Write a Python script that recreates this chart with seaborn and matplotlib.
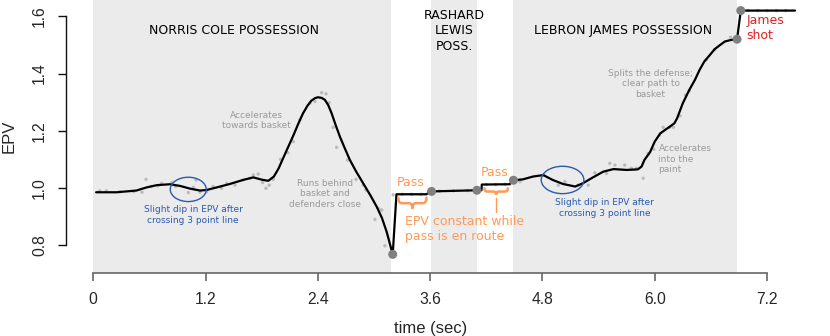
import numpy as np
import pandas as pd
import matplotlib
matplotlib.use("Agg")
import matplotlib.pyplot as plt
from matplotlib.patches import Ellipse, PathPatch
from matplotlib.path import Path
import seaborn as sns

# ---------------- data ----------------
curve_t = [0.03, 0.25, 0.46, 0.57, 0.68, 0.82, 0.93, 1.03, 1.14, 1.21, 1.32, 1.46,
           1.60, 1.71, 1.80, 1.87, 1.93, 1.98, 2.03, 2.085, 2.14, 2.19, 2.24, 2.29, 2.33,
           2.37, 2.40, 2.44, 2.475, 2.51, 2.547, 2.59,
           2.636, 2.69, 2.742, 2.81, 2.885, 2.96, 3.028, 3.085, 3.135, 3.20, 3.24, 3.56,
           3.615, 4.10, 4.148,
           4.152, 4.45, 4.49, 4.59, 4.70, 4.81, 4.91, 5.02, 5.15, 5.23, 5.34, 5.45,
           5.56, 5.70, 5.82, 5.86, 5.89, 5.95, 6.00, 6.06, 6.12, 6.16, 6.21, 6.24, 6.30,
           6.37, 6.43, 6.48, 6.53, 6.59, 6.64, 6.70, 6.75,
           6.81, 6.88, 6.92, 7.50]
curve_v = [0.985, 0.985, 0.991, 1.002, 1.010, 1.013, 1.007, 0.998, 0.991, 0.993, 1.002, 1.014,
           1.028, 1.037, 1.029, 1.025, 1.040, 1.068, 1.105, 1.145, 1.185, 1.224, 1.260, 1.288, 1.305,
           1.314, 1.317, 1.315, 1.308, 1.290, 1.261, 1.220,
           1.179, 1.137, 1.098, 1.057, 1.016, 0.975, 0.935, 0.895, 0.847, 0.768, 0.978, 0.978,
           0.988, 0.992, 0.992,
           1.012, 1.013, 1.027, 1.030, 1.040, 1.045, 1.028, 1.014, 1.005, 1.016, 1.037, 1.057,
           1.066, 1.063, 1.065, 1.075, 1.098, 1.125, 1.162, 1.191, 1.205, 1.214, 1.226, 1.244, 1.296,
           1.343, 1.378, 1.413, 1.442, 1.465, 1.485, 1.500, 1.512,
           1.517, 1.520, 1.620, 1.620]

raw_t = [0.07, 0.14, 0.285, 0.43, 0.52, 0.563, 0.62, 0.69, 0.73, 0.84, 0.88, 1.015, 1.07,
         1.097, 1.14, 1.21, 1.28, 1.37, 1.425, 1.514, 1.60, 1.674, 1.71, 1.763, 1.81, 1.845,
         1.88, 1.923, 2.00, 2.08, 2.137, 2.208, 2.315, 2.369, 2.44, 2.486, 2.52, 2.564, 2.60,
         2.718, 2.807, 2.885, 2.913, 3.01, 3.045, 3.081, 3.116, 3.205, 3.08,
         3.30, 3.40, 3.50, 3.70, 3.85, 4.00, 4.20, 4.30, 4.40,
         4.56, 4.81, 4.97, 5.04, 5.18, 5.29, 5.36, 5.485, 5.52, 5.575, 5.68, 5.75, 5.806,
         5.876, 5.93, 5.99, 6.05, 6.09, 6.16, 6.20, 6.27, 6.33, 6.37, 6.55, 6.64, 6.81,
         7.00, 7.10, 7.20, 7.30, 7.40]
raw_v = [0.990, 0.990, 0.987, 0.987, 0.985, 1.030, 1.005, 1.007, 1.016, 1.019, 1.005, 0.984, 1.002,
         1.028, 0.985, 0.987, 1.005, 0.999, 1.016, 1.010, 1.028, 1.034, 1.045, 1.049, 1.019, 0.999,
         1.010, 1.030, 1.100, 1.123, 1.162, 1.238, 1.296, 1.302, 1.333, 1.329, 1.298, 1.212, 1.142,
         1.098, 1.030, 1.010, 0.993, 0.890, 0.929, 0.923, 0.798, 0.976, 0.923,
         0.978, 0.978, 0.978, 0.989, 0.990, 0.991, 1.012, 1.012, 1.013,
         1.022, 1.045, 1.010, 1.022, 1.010, 1.010, 1.053, 1.051, 1.086, 1.080, 1.080, 1.069, 1.069,
         1.034, 1.121, 1.135, 1.185, 1.212, 1.212, 1.212, 1.252, 1.325, 1.340, 1.448, 1.483, 1.527,
         1.620, 1.620, 1.620, 1.620, 1.620]

event_t = [3.20, 3.615, 4.10, 4.49, 6.88, 6.92]
event_v = [0.768, 0.988, 0.992, 1.027, 1.520, 1.620]

poss_names = ["NORRIS COLE POSSESSION", "RASHARD\nLEWIS\nPOSS.", "LEBRON JAMES POSSESSION"]
poss_start = [0.0, 3.605, 4.484]
poss_end = [3.18, 4.096, 6.88]

pass_start = [3.26, 4.18]
pass_end = [3.56, 4.43]

x_ticks = [0, 1.2, 2.4, 3.6, 4.8, 6.0, 7.2]
x_tick_labels = ["0", "1.2", "2.4", "3.6", "4.8", "6.0", "7.2"]
y_ticks = [0.8, 1.0, 1.2, 1.4, 1.6]
y_tick_labels = ["0.8", "1.0", "1.2", "1.4", "1.6"]

curve_df = pd.DataFrame({"t": curve_t, "v": curve_v})
raw_df = pd.DataFrame({"t": raw_t, "v": raw_v})
event_df = pd.DataFrame({"t": event_t, "v": event_v})

# ---------------- style ----------------
sns.set_style("white")
plt.rcParams["font.family"] = ["DejaVu Sans"]

W, H = 830, 336
fig = plt.figure(figsize=(W / 100, H / 100), dpi=100)
ax = fig.add_axes([65.7 / W, (H - 273) / H, (796 - 65.7) / W, 273 / H])
ax.set_xlim(-0.295, 7.51)
ax.set_ylim(0.7028, 1.657)

SHADE = "#EBEBEB"
ORANGE = "#FF9955"
BLUE = "#2A5AAE"
GRAY_TXT = "#999999"
RED = "#E02020"

for s, e in zip(poss_start, poss_end):
    ax.axvspan(s, e, color=SHADE, lw=0, zorder=0)

sns.scatterplot(data=raw_df, x="t", y="v", ax=ax, color="#BBBBBB", s=6,
                edgecolor="none", zorder=2, legend=False)
sns.lineplot(data=curve_df, x="t", y="v", ax=ax, color="black", lw=1.6,
             sort=False, estimator=None, zorder=3, legend=False)
sns.scatterplot(data=event_df, x="t", y="v", ax=ax, color="#808080", s=42,
                edgecolor="none", zorder=4, legend=False)

# possession titles
title_x = [1.5, 3.857, 5.667]
for name, xc in zip(poss_names, title_x):
    ax.text(xc, 1.55, name, ha="center", va="center", fontsize=9, color="black",
            linespacing=1.25)

# gray annotations
ax.text(1.745, 1.236, "Accelerates\ntowards basket", ha="center", va="center",
        fontsize=6.5, color=GRAY_TXT, linespacing=1.25)
ax.text(2.475, 0.979, "Runs behind\nbasket and\ndefenders close", ha="center",
        va="center", fontsize=6.5, color=GRAY_TXT, linespacing=1.25)
ax.text(5.955, 1.364, "Splits the defense;\nclear path to\nbasket", ha="center",
        va="center", fontsize=6.5, color=GRAY_TXT, linespacing=1.25)
ax.text(6.04, 1.101, "Accelerates\ninto the\npaint", ha="left", va="center",
        fontsize=6.5, color=GRAY_TXT, linespacing=1.25)

# blue dips
ax.add_patch(Ellipse((1.015, 0.995), 0.385, 0.085, fill=False, ec=BLUE, lw=1, zorder=5))
ax.add_patch(Ellipse((5.015, 1.028), 0.456, 0.0956, fill=False, ec=BLUE, lw=1, zorder=5))
ax.text(1.068, 0.906, "Slight dip in EPV after\ncrossing 3 point line", ha="center",
        va="center", fontsize=6.5, color=BLUE, linespacing=1.25)
ax.text(5.467, 0.931, "Slight dip in EPV after\ncrossing 3 point line", ha="center",
        va="center", fontsize=6.5, color=BLUE, linespacing=1.25)

# passes
ax.text(3.395, 1.018, "Pass", ha="center", va="center", fontsize=9, color=ORANGE)
ax.text(4.285, 1.055, "Pass", ha="center", va="center", fontsize=9, color=ORANGE)
ax.text(3.33, 0.857, "EPV constant while\npass is en route", ha="left", va="center",
        fontsize=9, color=ORANGE, linespacing=1.25)


def brace(x0, x1, ytop, ytip):
    xc = (x0 + x1) / 2
    ym = (ytop + ytip) / 2
    r = (x1 - x0) * 0.12
    verts = [(x0, ytop), (x0, ym), (x0 + r, ym),
             (xc - r, ym), (xc, ym), (xc, ytip),
             (xc, ym), (xc + r, ym),
             (x1 - r, ym), (x1, ym), (x1, ytop)]
    codes = [Path.MOVETO, Path.CURVE3, Path.CURVE3,
             Path.LINETO, Path.CURVE3, Path.CURVE3,
             Path.CURVE3, Path.CURVE3,
             Path.LINETO, Path.CURVE3, Path.CURVE3]
    ax.add_patch(PathPatch(Path(verts, codes), fill=False, ec=ORANGE, lw=1.8,
                           capstyle="round", zorder=5))


brace(pass_start[0], pass_end[0], 0.966, 0.928)
brace(pass_start[1], pass_end[1], 0.999, 0.976)
ax.plot([4.30, 4.30], [0.964, 0.915], color=ORANGE, lw=1)

ax.text(6.98, 1.56, "James\nshot", ha="left", va="center", fontsize=9, color=RED,
        linespacing=1.2)

# axes
for sp in ["top", "right"]:
    ax.spines[sp].set_visible(False)
ax.spines["left"].set_visible(True)
ax.spines["bottom"].set_visible(True)
ax.spines["bottom"].set_bounds(0, 7.2)
ax.spines["left"].set_bounds(0.8, 1.6)
ax.spines["bottom"].set_color("#666666")
ax.spines["left"].set_color("#111111")
ax.spines["bottom"].set_linewidth(1.2)
ax.spines["left"].set_linewidth(1.0)
ax.spines["left"].set_zorder(6)

tick_font = ["Liberation Sans", "DejaVu Sans"]
ax.set_xticks(x_ticks)
ax.set_xticklabels(x_tick_labels, family=tick_font, fontsize=11.3)
ax.set_yticks(y_ticks)
ax.set_yticklabels(y_tick_labels, family=tick_font, fontsize=11.3, rotation=90,
                   va="center")
ax.tick_params(axis="x", bottom=True, direction="out", length=5.8, width=1.2,
               color="#666666", pad=8)
ax.tick_params(axis="y", left=True, direction="out", length=5.8, width=1.0,
               color="#111111", pad=7.5)
ax.set_xlabel("time (sec)", family=tick_font, fontsize=12, labelpad=10)
ax.set_ylabel("EPV", family=tick_font, fontsize=12, labelpad=11)

fig.savefig("out.png", dpi=100)
